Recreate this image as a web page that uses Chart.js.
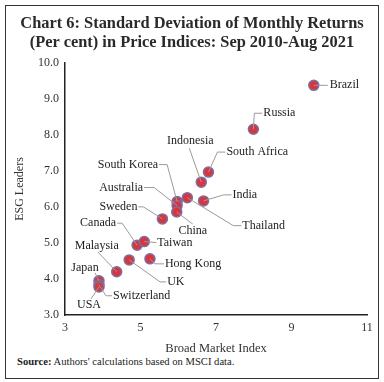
<!DOCTYPE html>
<html><head><meta charset="utf-8">
<script src="https://cdn.jsdelivr.net/npm/chart.js@4"></script>
<style>
html,body{margin:0;padding:0;background:#fff;}
#frame{position:absolute;left:5px;top:5px;width:372px;height:372px;border:1px solid #333;}
#title{position:absolute;left:0;top:7px;width:372px;text-align:center;font:bold 16.4px "Liberation Serif",serif;line-height:19px;color:#2a2a2a;white-space:nowrap;}
#wrap{position:absolute;left:0;top:0;width:372px;height:350px;}
#src{position:absolute;left:11px;top:350px;font:10.6px "Liberation Serif",serif;color:#222;white-space:nowrap;}
</style></head>
<body>
<div id="frame">
<div id="wrap"><canvas id="c"></canvas></div>
<div id="title">Chart 6: Standard Deviation of Monthly Returns<br>(Per cent) in Price Indices: Sep 2010-Aug 2021</div>
<div id="src"><b>Source:</b> Authors' calculations based on MSCI data.</div>
</div>
<script>
const countries = ["Brazil","Russia","Indonesia","South Africa","South Korea","Australia","Sweden","Canada","Taiwan","Malaysia","Hong Kong","UK","Japan","Switzerland","USA","China","Thailand","India"];
const broadMarket = [9.59,7.99,6.61,6.80,5.97,5.97,5.58,4.91,5.10,4.37,5.25,4.70,3.90,3.90,3.90,5.96,6.24,6.67];
const esgLeaders  = [9.38,8.16,6.69,6.97,6.15,6.04,5.67,4.94,5.04,4.20,4.56,4.53,3.95,3.84,3.78,5.86,6.26,6.17];
const xTicks = [3,5,7,9,11];
const yTicks = [3,4,5,6,7,8,9,10];

// label layout (pixel offsets from each point): [dx, dy, align, leader path]
const labelLayout = {
  "Brazil":[16,0,"left",[[14,0]]],
  "Russia":[10,-16,"left",[[1,-16],[9,-16]]],
  "Indonesia":[-11,-41,"center",[[-12,-34]]],
  "South Africa":[18,-20,"left",[[9,-20],[17,-20]]],
  "South Korea":[-19,-37,"right",[[-10,-37],[-18,-37]]],
  "Australia":[-34,-18,"right",[[-23,-18],[-33,-18]]],
  "Sweden":[-25,-12,"right",[[-19,-12],[-24,-12]]],
  "Canada":[-21,-22,"right",[[-15,-22],[-20,-22]]],
  "Taiwan":[13,1,"left",[[12,1]]],
  "Malaysia":[-20,-26,"center",[[-19,-20]]],
  "Hong Kong":[15,5,"left",[[5,5],[14,5]]],
  "UK":[38,22,"left",[[31,22],[37,22]]],
  "Japan":[-14,-13,"center",[[-4,-8]]],
  "Switzerland":[14,11,"left",[[7,11],[13,11]]],
  "USA":[-10,18,"center",[[-8,12]]],
  "China":[16,19,"center",[[16,12]]],
  "Thailand":[55,28,"left",[[46,28],[54,28]]],
  "India":[29,-6,"left",[[20,-6],[28,-6]]]
};

const labelPlugin = {
  id:'labels',
  afterDatasetsDraw(chart){
    const ctx = chart.ctx;
    const meta = chart.getDatasetMeta(0);
    ctx.save();
    ctx.font = '12px "Liberation Serif", serif';
    ctx.textBaseline = 'middle';
    meta.data.forEach((pt,i)=>{
      const L = labelLayout[countries[i]];
      ctx.strokeStyle = '#9a9a9a';
      ctx.lineWidth = 1;
      ctx.beginPath();
      ctx.moveTo(pt.x, pt.y);
      L[3].forEach(p=>ctx.lineTo(pt.x+p[0], pt.y+p[1]));
      ctx.stroke();
    });
    meta.data.forEach((pt,i)=>{
      const name = countries[i];
      const L = labelLayout[name];
      ctx.fillStyle = '#222';
      ctx.textAlign = L[2];
      ctx.fillText(name, pt.x+L[0], pt.y+L[1]);
    });
    ctx.restore();
  }
};

new Chart(document.getElementById('c'), {
  type:'scatter',
  data:{datasets:[{
    data: broadMarket.map((x,i)=>({x:x, y:esgLeaders[i]})),
    backgroundColor:'#d8363d',
    borderColor:'#7a6fa6',
    borderWidth:1.5,
    pointRadius:5,
    pointHoverRadius:5
  }]},
  options:{
    responsive:true, maintainAspectRatio:false, animation:false,
    layout:{padding:{top:57,right:11,bottom:0,left:0}},
    plugins:{legend:{display:false},tooltip:{enabled:false},title:{display:false}},
    scales:{
      x:{type:'linear',min:3,max:11,
        afterBuildTicks(s){s.ticks = xTicks.map(v=>({value:v}));},
        afterFit(s){s.height = 41;},
        grid:{display:false,drawTicks:true,tickLength:4,color:'#222'},
        border:{display:true,color:'#222',width:1.5},
        ticks:{color:'#333',font:{family:'"Liberation Serif", serif',size:12},padding:2,maxRotation:0},
        title:{display:true,text:'Broad Market Index',color:'#333',font:{family:'"Liberation Serif", serif',size:12.5},padding:{top:0,bottom:0}}
      },
      y:{type:'linear',min:3,max:10,
        afterBuildTicks(s){s.ticks = yTicks.map(v=>({value:v}));},
        afterFit(s){s.width = 59;},
        grid:{display:false,drawTicks:true,tickLength:4,color:'#222'},
        border:{display:true,color:'#222',width:1.5},
        ticks:{color:'#333',font:{family:'"Liberation Serif", serif',size:12},padding:2,callback:v=>v.toFixed(1)},
        title:{display:true,text:'ESG Leaders',color:'#333',font:{family:'"Liberation Serif", serif',size:12},padding:{top:7,bottom:0}}
      }
    }
  },
  plugins:[labelPlugin]
});
</script>
</body></html>
